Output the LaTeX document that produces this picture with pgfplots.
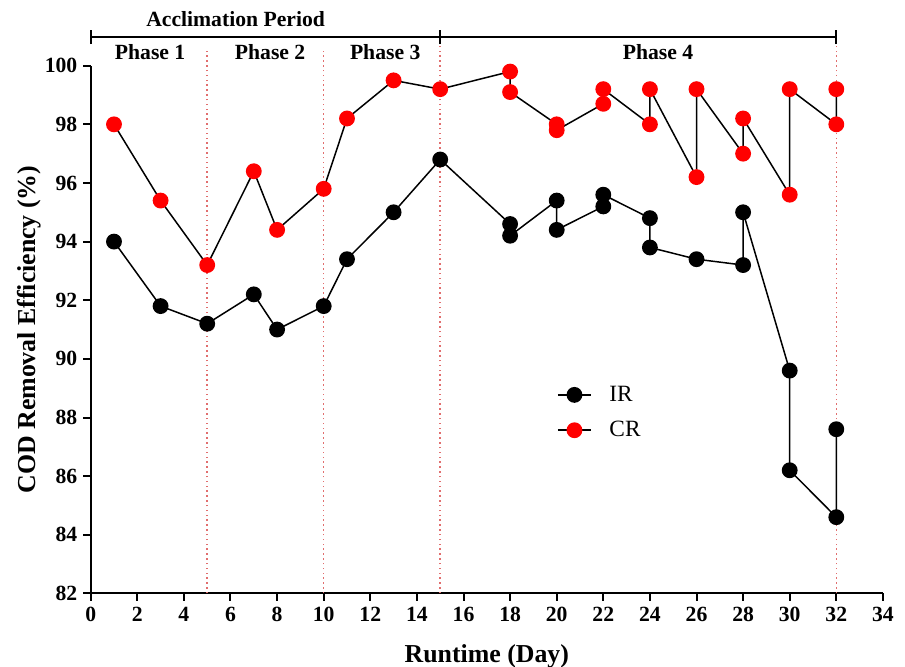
\documentclass[border=0pt]{standalone}
\usepackage{fontspec}
\setmainfont{Liberation Serif}
\usepackage{pgfplots}
\pgfplotsset{compat=1.18}
\definecolor{dotred}{RGB}{225,110,110}
\begin{document}
\begin{tikzpicture}
\begin{axis}[
  scale only axis, width=475.3pt, height=316.6pt,
  xmin=0, xmax=34, ymin=82, ymax=100,
  axis x line*=bottom, axis y line*=left,
  axis line style={line width=1.2pt},
  xtick={0,2,...,34}, ytick={82,84,...,100},
  tick align=outside, major tick length=4.5pt,
  tick style={line width=1.2pt, black},
  /pgf/number format/assume math mode=true,
  ticklabel style={font=\fontsize{13}{15}\selectfont\bfseries},
  xlabel={Runtime (Day)}, ylabel={COD Removal Efficiency (\%)},
  label style={font=\fontsize{15.5}{18}\selectfont\bfseries},
  xlabel style={at={(axis description cs:0.5,-0.1302)}, anchor=base},
  ylabel style={at={(axis description cs:-0.06905,0.5)}, anchor=base, rotate=0},
  clip=false,
  legend cell align=left,
  legend image code/.code={%
    \path[draw=none, fill=none] (0pt,0pt) -- (29pt,0pt);
    \draw[black, line width=0.9pt] (0pt,0pt) -- (20pt,0pt);
    \draw[#1] plot coordinates {(10pt,0pt)};},
  legend style={draw=none, fill=none, at={(axis cs:20.0,89.2)}, anchor=north west,
    font=\fontsize{14}{16}\selectfont, row sep=6.5pt, inner sep=0pt},
]
% phase separators
\draw[dotred, dotted, line width=0.9pt] (axis cs:5,82) -- (axis cs:5,100.6);
\draw[dotred, dotted, line width=0.9pt] (axis cs:10,82) -- (axis cs:10,100.6);
\draw[dotred, dotted, line width=0.9pt] (axis cs:15,82) -- (axis cs:15,100.99);
\draw[dotred, dotted, line width=0.9pt] (axis cs:32,82) -- (axis cs:32,100.99);
% bracket
\draw[line width=1.2pt] (axis cs:0,100.99) -- (axis cs:32,100.99);
\draw[line width=1.2pt] (axis cs:0,100.74) -- (axis cs:0,101.22);
\draw[line width=1.2pt] (axis cs:15,100.74) -- (axis cs:15,101.22);
\draw[line width=1.2pt] (axis cs:32,100.74) -- (axis cs:32,101.22);
\node[anchor=base, font=\fontsize{13}{15}\selectfont\bfseries] at (axis cs:6.22,101.35) {Acclimation Period};
\node[anchor=base, font=\fontsize{13}{15}\selectfont\bfseries] at (axis cs:2.55,100.22) {Phase 1};
\node[anchor=base, font=\fontsize{13}{15}\selectfont\bfseries] at (axis cs:7.7,100.22) {Phase 2};
\node[anchor=base, font=\fontsize{13}{15}\selectfont\bfseries] at (axis cs:12.64,100.22) {Phase 3};
\node[anchor=base, font=\fontsize{13}{15}\selectfont\bfseries] at (axis cs:24.35,100.22) {Phase 4};

\addplot[black, line width=0.9pt, mark=*, mark size=4.3pt, mark options={fill=black, draw=black}]
coordinates {(1,94.0)(3,91.8)(5,91.2)(7,92.2)(8,91.0)(10,91.8)(11,93.4)(13,95.0)(15,96.8)
(18,94.6)(18,94.2)(20,95.4)(20,94.4)(22,95.2)(22,95.6)(24,94.8)(24,93.8)(26,93.4)
(28,93.2)(28,95.0)(30,89.6)(30,86.2)(32,84.6)(32,87.6)};
\addlegendentry{IR}
\addplot[black, line width=0.9pt, mark=*, mark size=4.3pt, mark options={fill=red, draw=red}]
coordinates {(1,98.0)(3,95.4)(5,93.2)(7,96.4)(8,94.4)(10,95.8)(11,98.2)(13,99.5)(15,99.2)
(18,99.8)(18,99.1)(20,98.0)(20,97.8)(22,98.7)(22,99.2)(24,98.0)(24,99.2)(26,96.2)
(26,99.2)(28,97.0)(28,98.2)(30,95.6)(30,99.2)(32,98.0)(32,99.2)};
\addlegendentry{CR}

\coordinate (BL) at (rel axis cs:-0.11449,-0.13779);
\coordinate (TR) at (rel axis cs:1.02790,1.12453);
\end{axis}
\pgfresetboundingbox
\path[use as bounding box] (BL) rectangle (TR);
\end{tikzpicture}
\end{document}
